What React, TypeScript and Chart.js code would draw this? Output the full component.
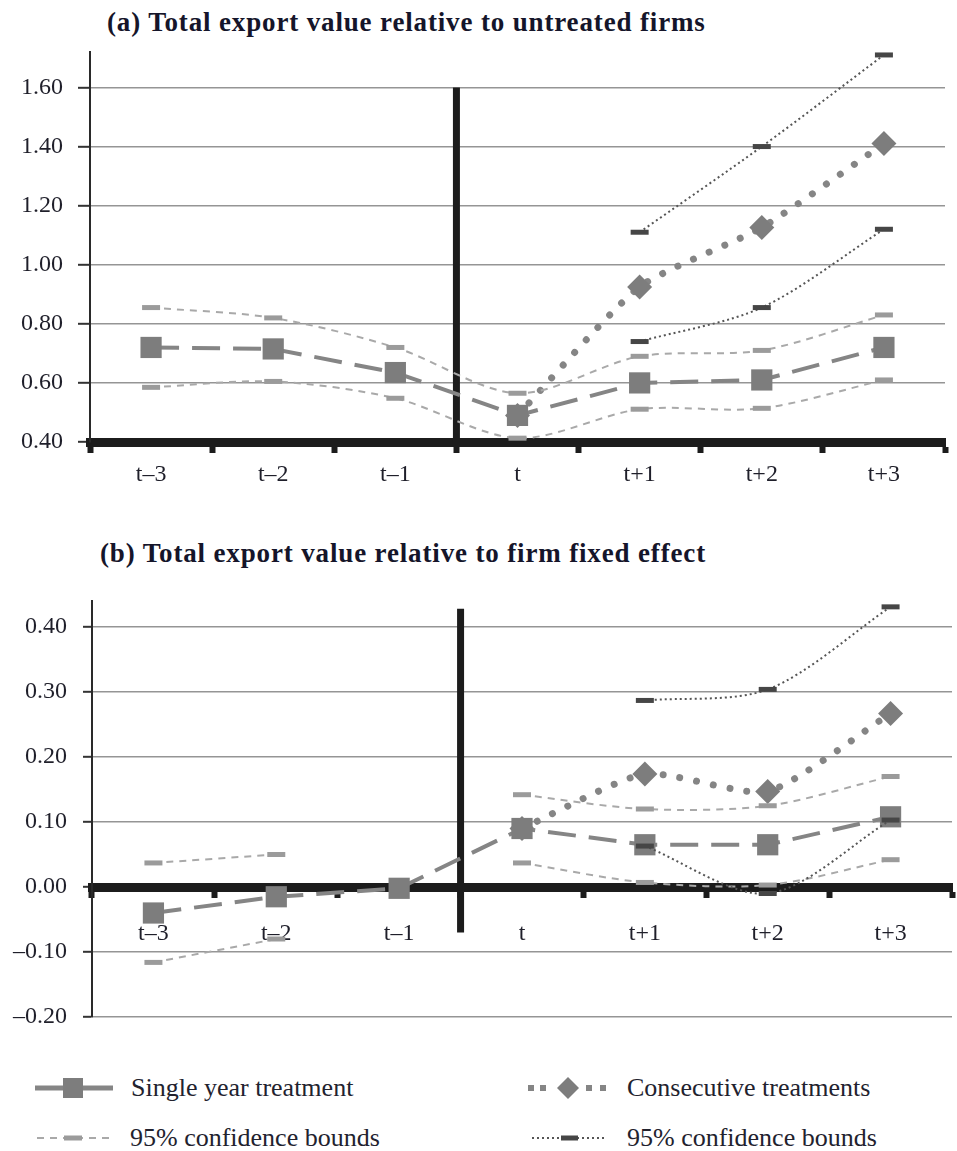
import React, { useEffect, useRef } from 'react';
import { Chart, registerables } from 'chart.js';

Chart.register(...registerables);

// ---------- data ----------
const categories = ['t–3', 't–2', 't–1', 't', 't+1', 't+2', 't+3'];

// Panel (a): total export value relative to untreated firms
const aSingle = [0.72, 0.715, 0.635, 0.49, 0.6, 0.61, 0.72];
const aSingleUpper = [0.855, 0.82, 0.72, 0.565, 0.69, 0.71, 0.83];
const aSingleLower = [0.585, 0.605, 0.548, 0.413, 0.511, 0.514, 0.61];
const aCons = [null, null, null, 0.49, 0.925, 1.126, 1.41];
const aConsUpper = [null, null, null, null, 1.11, 1.4, 1.71];
const aConsLower = [null, null, null, null, 0.74, 0.855, 1.12];
const aTicks = [0.4, 0.6, 0.8, 1.0, 1.2, 1.4, 1.6];
const aRange = [0.4, 1.72];
const aDivider = [1.6, 0.4];

// Panel (b): total export value relative to firm fixed effect
const bSingle = [-0.04, -0.015, -0.002, 0.09, 0.065, 0.065, 0.108];
const bSingleUpper = [0.037, 0.05, null, 0.142, 0.12, 0.125, 0.17];
const bSingleLower = [-0.116, -0.08, null, 0.037, 0.007, 0.003, 0.042];
const bCons = [null, null, null, 0.09, 0.174, 0.147, 0.267];
const bConsUpper = [null, null, null, null, 0.287, 0.304, 0.431];
const bConsLower = [null, null, null, null, 0.063, -0.01, 0.103];
const bTicks = [-0.2, -0.1, 0.0, 0.1, 0.2, 0.3, 0.4];
const bRange = [-0.2, 0.44];
const bDivider = [0.428, -0.07];

const dividerAt = 2.5; // boundary between t–1 and t (category index units)
const xAxisAt = { a: 0.4, b: 0.0 };

const titleA = '(a) Total export value relative to untreated firms';
const titleB = '(b) Total export value relative to firm fixed effect';
const legendLabels = ['Single year treatment', 'Consecutive treatments', '95% confidence bounds', '95% confidence bounds'];

// ---------- styling ----------
const SERIF = "'Liberation Serif', 'Times New Roman', serif";
const C_MAIN = '#858585';
const C_MARK = '#7d7d7d';
const C_LIGHT = '#a9a9a9';
const C_LIGHT_MARK = '#9b9b9b';
const C_DARK = '#555555';
const C_DARK_MARK = '#464646';
const C_AXIS = '#1c1c1c';

interface Panel {
  single: (number | null)[];
  singleUpper: (number | null)[];
  singleLower: (number | null)[];
  cons: (number | null)[];
  consUpper: (number | null)[];
  consLower: (number | null)[];
  ticks: number[];
  range: number[];
  divider: number[];
  axisAt: number;
  yWidth: number;
  yTickLen: number;
  yPad: number;
  xPad: number;
  padTop: number;
  padBottom: number;
}

function fmt(v: number) {
  const s = Math.abs(v).toFixed(2);
  return v < -1e-9 ? '–' + s : s;
}

function buildConfig(p: Panel): any {
  const darkCI = (data: (number | null)[]) => ({
    data,
    xAxisID: 'x',
    yAxisID: 'y',
    borderColor: C_DARK,
    borderWidth: 2,
    borderDash: [2, 3],
    tension: 0.3,
    pointStyle: 'line',
    pointRadius: 9,
    pointBorderWidth: 5,
    pointBorderColor: C_DARK_MARK,
    pointBackgroundColor: C_DARK_MARK,
    clip: false,
  });
  const lightCI = (data: (number | null)[]) => ({
    data,
    xAxisID: 'x',
    yAxisID: 'y',
    borderColor: C_LIGHT,
    borderWidth: 2,
    borderDash: [7, 6],
    tension: 0.3,
    pointStyle: 'line',
    pointRadius: 9,
    pointBorderWidth: 5,
    pointBorderColor: C_LIGHT_MARK,
    pointBackgroundColor: C_LIGHT_MARK,
    clip: false,
  });
  return {
    type: 'line',
    data: {
      labels: categories,
      datasets: [
        darkCI(p.consUpper),
        darkCI(p.consLower),
        lightCI(p.singleUpper),
        lightCI(p.singleLower),
        {
          data: p.single,
          xAxisID: 'x',
          yAxisID: 'y',
          borderColor: C_MAIN,
          borderWidth: 4,
          borderDash: [28, 13],
          tension: 0,
          pointStyle: 'rect',
          pointRadius: 15,
          pointBorderWidth: 0,
          pointBackgroundColor: C_MARK,
          pointBorderColor: C_MARK,
          clip: false,
        },
        {
          data: p.cons,
          xAxisID: 'x',
          yAxisID: 'y',
          borderColor: C_MAIN,
          borderWidth: 7,
          borderDash: [0.01, 17],
          borderCapStyle: 'round',
          tension: 0.2,
          pointStyle: 'rectRot',
          pointRadius: 12.5,
          pointBorderWidth: 0,
          pointBackgroundColor: C_MARK,
          pointBorderColor: C_MARK,
          clip: false,
        },
        {
          data: p.divider.map((y) => ({ x: dividerAt, y })),
          xAxisID: 'xv',
          yAxisID: 'y',
          borderColor: C_AXIS,
          borderWidth: 7,
          pointRadius: 0,
          clip: false,
        },
      ],
    },
    options: {
      animation: false,
      responsive: false,
      events: [],
      layout: { padding: { top: p.padTop, bottom: p.padBottom, left: 0, right: 0 } },
      plugins: { legend: { display: false }, tooltip: { enabled: false }, title: { display: false } },
      scales: {
        x: {
          type: 'category',
          position: { y: p.axisAt },
          offset: true,
          border: { display: true, color: C_AXIS, width: 9 },
          grid: {
            display: true,
            offset: true,
            drawOnChartArea: false,
            drawTicks: true,
            tickLength: 6,
            tickWidth: 6,
            tickColor: C_AXIS,
          },
          ticks: {
            padding: p.xPad,
            color: '#1f1f2a',
            font: { family: SERIF, size: 24 },
            maxRotation: 0,
            autoSkip: false,
          },
        },
        xv: {
          type: 'linear',
          display: false,
          min: -0.5,
          max: categories.length - 0.5,
        },
        y: {
          type: 'linear',
          position: 'left',
          min: p.range[0],
          max: p.range[1],
          afterBuildTicks: (axis: any) => {
            axis.ticks = p.ticks.map((v) => ({ value: v }));
          },
          afterFit: (axis: any) => {
            axis.width = p.yWidth;
          },
          border: { display: true, color: '#2a2a2a', width: 2 },
          grid: {
            color: '#959595',
            lineWidth: 1.6,
            drawTicks: true,
            tickLength: p.yTickLen,
            tickColor: '#333333',
            tickWidth: 2,
          },
          ticks: {
            padding: p.yPad,
            color: '#1f1f2a',
            font: { family: SERIF, size: 24 },
            callback: (v: any) => fmt(Number(v)),
          },
        },
      },
    },
  };
}

const panelA: Panel = {
  single: aSingle,
  singleUpper: aSingleUpper,
  singleLower: aSingleLower,
  cons: aCons,
  consUpper: aConsUpper,
  consLower: aConsLower,
  ticks: aTicks,
  range: aRange,
  divider: aDivider,
  axisAt: xAxisAt.a,
  yWidth: 90,
  yTickLen: 12,
  yPad: 15,
  xPad: 12,
  padTop: 52,
  padBottom: 58,
};

const panelB: Panel = {
  single: bSingle,
  singleUpper: bSingleUpper,
  singleLower: bSingleLower,
  cons: bCons,
  consUpper: bConsUpper,
  consLower: bConsLower,
  ticks: bTicks,
  range: bRange,
  divider: bDivider,
  axisAt: xAxisAt.b,
  yWidth: 92,
  yTickLen: 9,
  yPad: 16,
  xPad: 26,
  padTop: 71,
  padBottom: 43,
};

function ChartCanvas({ panel, width, height, top }: { panel: Panel; width: number; height: number; top: number }) {
  const ref = useRef<HTMLCanvasElement | null>(null);
  useEffect(() => {
    if (!ref.current) return;
    const chart = new Chart(ref.current, buildConfig(panel));
    return () => chart.destroy();
  }, [panel]);
  return (
    <canvas
      ref={ref}
      width={width}
      height={height}
      style={{ position: 'absolute', left: 0, top, width, height, display: 'block' }}
    />
  );
}

const titleStyle: React.CSSProperties = {
  position: 'absolute',
  fontFamily: SERIF,
  fontWeight: 'bold',
  fontSize: 27,
  letterSpacing: 0.85,
  color: '#15152a',
  whiteSpace: 'nowrap',
  lineHeight: '30px',
};

const legendText: React.CSSProperties = {
  position: 'absolute',
  fontFamily: SERIF,
  fontSize: 26,
  color: '#22222e',
  whiteSpace: 'nowrap',
  lineHeight: '30px',
  height: 30,
};

function SymSingle() {
  return (
    <svg width={78} height={24} style={{ display: 'block' }}>
      <line x1={0} y1={12} x2={78} y2={12} stroke={C_MAIN} strokeWidth={5} />
      <rect x={28} y={2} width={20} height={20} fill={C_MARK} />
    </svg>
  );
}
function SymCons() {
  return (
    <svg width={80} height={24} style={{ display: 'block' }}>
      <rect x={0} y={9} width={6} height={6} fill={C_MAIN} />
      <rect x={12} y={9} width={6} height={6} fill={C_MAIN} />
      <polygon points="40,1 51,12 40,23 29,12" fill={C_MARK} />
      <rect x={58} y={9} width={6} height={6} fill={C_MAIN} />
      <rect x={72} y={9} width={6} height={6} fill={C_MAIN} />
    </svg>
  );
}
function SymLightCI() {
  return (
    <svg width={74} height={24} style={{ display: 'block' }}>
      <line x1={0} y1={12} x2={74} y2={12} stroke={C_LIGHT} strokeWidth={2} strokeDasharray="7 6" />
      <rect x={27} y={9.5} width={18} height={5} fill={C_LIGHT_MARK} />
    </svg>
  );
}
function SymDarkCI() {
  return (
    <svg width={72} height={24} style={{ display: 'block' }}>
      <line x1={0} y1={12} x2={72} y2={12} stroke={C_DARK} strokeWidth={2} strokeDasharray="2 3" />
      <rect x={29} y={9.5} width={17} height={5} fill={C_DARK_MARK} />
    </svg>
  );
}

export default function App() {
  useEffect(() => {
    document.body.style.margin = '0';
    document.body.style.background = '#ffffff';
  }, []);
  return (
    <div style={{ position: 'relative', width: 957, height: 1151, overflow: 'hidden', background: '#fff' }}>
      <div style={{ ...titleStyle, left: 107, top: 7 }}>{titleA}</div>
      <ChartCanvas panel={panelA} width={960} height={500} top={0} />
      <div style={{ ...titleStyle, left: 100, top: 538 }}>{titleB}</div>
      <ChartCanvas panel={panelB} width={967} height={530} top={530} />

      <div style={{ position: 'absolute', left: 35, top: 1076 }}><SymSingle /></div>
      <div style={{ ...legendText, left: 131, top: 1073 }}>{legendLabels[0]}</div>
      <div style={{ position: 'absolute', left: 528, top: 1076 }}><SymCons /></div>
      <div style={{ ...legendText, left: 627, top: 1073 }}>{legendLabels[1]}</div>
      <div style={{ position: 'absolute', left: 37, top: 1126 }}><SymLightCI /></div>
      <div style={{ ...legendText, left: 130, top: 1123 }}>{legendLabels[2]}</div>
      <div style={{ position: 'absolute', left: 532, top: 1126 }}><SymDarkCI /></div>
      <div style={{ ...legendText, left: 627, top: 1123 }}>{legendLabels[3]}</div>
    </div>
  );
}
